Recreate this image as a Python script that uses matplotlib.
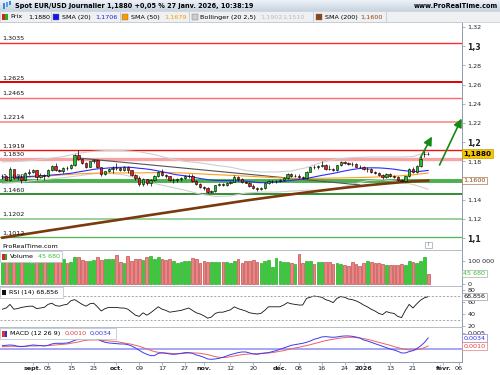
import numpy as np
import pandas as pd
import matplotlib
matplotlib.use('Agg')
import matplotlib.pyplot as plt
from matplotlib.patches import Rectangle

plt.rcParams['font.family'] = ['DejaVu Sans']

# ---- data (EUR/USD daily, 20 aout 2025 -> 27 janv. 2026) ----
opens = [1.1648, 1.1650, 1.1610, 1.1718, 1.1622, 1.1640, 1.1605, 1.1680, 1.1685, 1.1710,
         1.1640, 1.1655, 1.1645, 1.1715, 1.1755, 1.1708, 1.1695, 1.1735, 1.1733, 1.1760,
         1.1867, 1.1820, 1.1785, 1.1745, 1.1800, 1.1810, 1.1738, 1.1665, 1.1700, 1.1725,
         1.1735, 1.1730, 1.1715, 1.1745, 1.1712, 1.1655, 1.1630, 1.1565, 1.1615, 1.1570,
         1.1608, 1.1645, 1.1690, 1.1655, 1.1645, 1.1605, 1.1610, 1.1615, 1.1625, 1.1645,
         1.1650, 1.1600, 1.1565, 1.1535, 1.1520, 1.1485, 1.1490, 1.1550, 1.1565, 1.1555,
         1.1580, 1.1590, 1.1635, 1.1620, 1.1590, 1.1580, 1.1545, 1.1525, 1.1510, 1.1520,
         1.1570, 1.1595, 1.1595, 1.1600, 1.1610, 1.1625, 1.1665, 1.1645, 1.1648, 1.1640,
         1.1630, 1.1690, 1.1740, 1.1738, 1.1755, 1.1760, 1.1725, 1.1722, 1.1710, 1.1760,
         1.1790, 1.1780, 1.1772, 1.1770, 1.1745, 1.1740, 1.1720, 1.1722, 1.1690, 1.1675,
         1.1655, 1.1635, 1.1665, 1.1645, 1.1642, 1.1610, 1.1598, 1.1645, 1.1725, 1.1685,
         1.1755, 1.1878, 1.1882]
highs = [1.1672, 1.1660, 1.1742, 1.1722, 1.1655, 1.1660, 1.1690, 1.1720, 1.1720, 1.1715,
         1.1675, 1.1665, 1.1725, 1.1765, 1.1780, 1.1725, 1.1745, 1.1755, 1.1770, 1.1875,
         1.1918, 1.1830, 1.1790, 1.1805, 1.1820, 1.1820, 1.1745, 1.1705, 1.1730, 1.1750,
         1.1780, 1.1740, 1.1750, 1.1755, 1.1715, 1.1665, 1.1645, 1.1625, 1.1620, 1.1615,
         1.1655, 1.1700, 1.1725, 1.1670, 1.1650, 1.1625, 1.1630, 1.1635, 1.1655, 1.1665,
         1.1670, 1.1610, 1.1580, 1.1545, 1.1530, 1.1505, 1.1555, 1.1575, 1.1580, 1.1590,
         1.1595, 1.1655, 1.1650, 1.1630, 1.1600, 1.1590, 1.1560, 1.1535, 1.1535, 1.1580,
         1.1605, 1.1610, 1.1610, 1.1620, 1.1635, 1.1675, 1.1680, 1.1665, 1.1665, 1.1650,
         1.1700, 1.1745, 1.1760, 1.1765, 1.1805, 1.1770, 1.1760, 1.1735, 1.1765, 1.1800,
         1.1805, 1.1790, 1.1790, 1.1780, 1.1760, 1.1750, 1.1740, 1.1735, 1.1700, 1.1685,
         1.1665, 1.1675, 1.1675, 1.1660, 1.1650, 1.1620, 1.1650, 1.1735, 1.1740, 1.1760,
         1.1870, 1.1915, 1.1900]
lows = [1.1620, 1.1605, 1.1600, 1.1612, 1.1608, 1.1574, 1.1600, 1.1660, 1.1680, 1.1610,
        1.1630, 1.1610, 1.1635, 1.1705, 1.1700, 1.1690, 1.1680, 1.1715, 1.1725, 1.1755,
        1.1810, 1.1770, 1.1730, 1.1740, 1.1785, 1.1730, 1.1645, 1.1655, 1.1690, 1.1680,
        1.1715, 1.1695, 1.1705, 1.1680, 1.1645, 1.1610, 1.1540, 1.1545, 1.1555, 1.1545,
        1.1600, 1.1640, 1.1645, 1.1630, 1.1595, 1.1580, 1.1590, 1.1600, 1.1620, 1.1630,
        1.1590, 1.1555, 1.1520, 1.1505, 1.1475, 1.1468, 1.1485, 1.1540, 1.1540, 1.1545,
        1.1560, 1.1585, 1.1600, 1.1580, 1.1570, 1.1535, 1.1515, 1.1490, 1.1500, 1.1510,
        1.1560, 1.1580, 1.1575, 1.1585, 1.1595, 1.1620, 1.1635, 1.1635, 1.1630, 1.1615,
        1.1620, 1.1685, 1.1720, 1.1725, 1.1740, 1.1715, 1.1710, 1.1695, 1.1705, 1.1750,
        1.1770, 1.1760, 1.1755, 1.1740, 1.1730, 1.1710, 1.1690, 1.1680, 1.1665, 1.1650,
        1.1620, 1.1625, 1.1635, 1.1630, 1.1600, 1.1585, 1.1590, 1.1640, 1.1675, 1.1680,
        1.1745, 1.1850, 1.1862]
closes = [1.1650, 1.1610, 1.1718, 1.1622, 1.1640, 1.1605, 1.1680, 1.1685, 1.1710, 1.1640,
          1.1655, 1.1645, 1.1715, 1.1755, 1.1708, 1.1695, 1.1735, 1.1733, 1.1760, 1.1867,
          1.1820, 1.1785, 1.1745, 1.1800, 1.1810, 1.1738, 1.1665, 1.1700, 1.1725, 1.1735,
          1.1730, 1.1715, 1.1745, 1.1712, 1.1655, 1.1630, 1.1565, 1.1615, 1.1570, 1.1608,
          1.1645, 1.1690, 1.1655, 1.1645, 1.1605, 1.1610, 1.1615, 1.1625, 1.1645, 1.1650,
          1.1600, 1.1565, 1.1535, 1.1520, 1.1485, 1.1490, 1.1550, 1.1565, 1.1555, 1.1580,
          1.1590, 1.1635, 1.1620, 1.1590, 1.1580, 1.1545, 1.1525, 1.1510, 1.1520, 1.1570,
          1.1595, 1.1595, 1.1600, 1.1610, 1.1625, 1.1665, 1.1645, 1.1648, 1.1640, 1.1630,
          1.1690, 1.1740, 1.1738, 1.1755, 1.1760, 1.1725, 1.1722, 1.1710, 1.1760, 1.1790,
          1.1780, 1.1772, 1.1770, 1.1745, 1.1740, 1.1720, 1.1722, 1.1690, 1.1675, 1.1655,
          1.1635, 1.1665, 1.1645, 1.1642, 1.1610, 1.1598, 1.1645, 1.1725, 1.1685, 1.1755,
          1.1830, 1.1882, 1.1880]

sma20 = [1.1628, 1.1630, 1.1633, 1.1635, 1.1637, 1.1638, 1.1640, 1.1642, 1.1645, 1.1646,
         1.1648, 1.1650, 1.1654, 1.1658, 1.1661, 1.1664, 1.1668, 1.1672, 1.1676, 1.1683,
         1.1690, 1.1697, 1.1703, 1.1710, 1.1717, 1.1722, 1.1724, 1.1728, 1.1732, 1.1735,
         1.1737, 1.1738, 1.1740, 1.1740, 1.1737, 1.1733, 1.1728, 1.1725, 1.1720, 1.1715,
         1.1708, 1.1700, 1.1692, 1.1685, 1.1676, 1.1667, 1.1660, 1.1655, 1.1650, 1.1645,
         1.1638, 1.1630, 1.1622, 1.1616, 1.1610, 1.1605, 1.1603, 1.1601, 1.1600, 1.1600,
         1.1600, 1.1600, 1.1598, 1.1596, 1.1593, 1.1590, 1.1585, 1.1580, 1.1578, 1.1579,
         1.1581, 1.1583, 1.1585, 1.1588, 1.1592, 1.1597, 1.1602, 1.1607, 1.1612, 1.1617,
         1.1623, 1.1630, 1.1638, 1.1646, 1.1654, 1.1661, 1.1668, 1.1675, 1.1683, 1.1692,
         1.1700, 1.1708, 1.1715, 1.1721, 1.1726, 1.1729, 1.1732, 1.1733, 1.1733, 1.1732,
         1.1730, 1.1727, 1.1723, 1.1719, 1.1713, 1.1707, 1.1702, 1.1698, 1.1695, 1.1695,
         1.1697, 1.1701, 1.1706]

# smoother lines, read every 4th session
sma50 = [1.1625, 1.1630, 1.1638, 1.1648, 1.1660, 1.1670, 1.1677, 1.1680, 1.1680, 1.1680,
         1.1683, 1.1683, 1.1678, 1.1670, 1.1662, 1.1655, 1.1647, 1.1638, 1.1630, 1.1624,
         1.1622, 1.1624, 1.1627, 1.1630, 1.1634, 1.1640, 1.1648, 1.1660, 1.1679]
sma200 = [1.1005, 1.1030, 1.1054, 1.1079, 1.1103, 1.1128, 1.1152, 1.1176, 1.1200, 1.1224,
          1.1248, 1.1272, 1.1296, 1.1320, 1.1344, 1.1368, 1.1392, 1.1414, 1.1436, 1.1457,
          1.1477, 1.1497, 1.1516, 1.1534, 1.1551, 1.1566, 1.1580, 1.1592, 1.1600]
bb_up = [1.1795, 1.1800, 1.1810, 1.1830, 1.1850, 1.1885, 1.1905, 1.1915, 1.1912, 1.1900,
         1.1870, 1.1830, 1.1800, 1.1785, 1.1760, 1.1740, 1.1705, 1.1690, 1.1690, 1.1700,
         1.1735, 1.1790, 1.1825, 1.1840, 1.1845, 1.1845, 1.1845, 1.1850, 1.1902]
bb_low = [1.1570, 1.1580, 1.1600, 1.1615, 1.1630, 1.1650, 1.1672, 1.1675, 1.1660, 1.1620,
          1.1570, 1.1535, 1.1500, 1.1460, 1.1435, 1.1440, 1.1470, 1.1480, 1.1480, 1.1490,
          1.1500, 1.1500, 1.1520, 1.1560, 1.1600, 1.1610, 1.1590, 1.1560, 1.1510]

volume = [98000, 104000, 112000, 101000, 96000, 99000, 103000, 95000, 90000, 108000,
          99000, 97000, 105000, 100000, 103000, 96000, 107000, 93000, 97000, 116000,
          117000, 104000, 101000, 101000, 104000, 116000, 104000, 107000, 110000, 110000,
          126000, 97000, 90000, 124000, 101000, 110000, 110000, 104000, 116000, 121000,
          111000, 116000, 107000, 104000, 107000, 101000, 93000, 96000, 99000, 101000,
          114000, 111000, 90000, 101000, 97000, 94000, 94000, 94000, 94000, 97000,
          93000, 99000, 107000, 93000, 101000, 101000, 104000, 97000, 90000, 101000,
          104000, 73000, 114000, 101000, 94000, 94000, 93000, 86000, 129000, 93000,
          101000, 101000, 88000, 96000, 96000, 94000, 94000, 86000, 90000, 86000,
          83000, 78000, 94000, 88000, 80000, 90000, 101000, 94000, 91000, 90000,
          88000, 83000, 83000, 83000, 83000, 86000, 81000, 101000, 94000, 90000,
          101000, 116000, 45680]

rsi = [48, 50, 56, 48, 49, 51, 52, 53, 53, 49,
       50, 51, 56, 58, 54, 53, 55, 56, 62, 64,
       60, 56, 53, 57, 58, 52, 45, 49, 51, 51,
       51, 50, 50, 48, 43, 38, 36, 42, 38, 42,
       47, 52, 48, 46, 43, 44, 45, 46, 48, 50,
       46, 42, 40, 37, 33, 35, 41, 43, 43, 45,
       47, 52, 49, 47, 45, 42, 41, 40, 41, 46,
       52, 52, 52, 52, 55, 59, 57, 56, 55, 55,
       66, 68, 70, 69, 68, 64, 62, 59, 66, 69,
       68, 65, 64, 62, 59, 55, 52, 48, 45, 41,
       39, 44, 42, 41, 36, 34, 46, 56, 50, 57,
       63, 67, 68.856]

macd = [0.0011, 0.0012, 0.0013, 0.0012, 0.0009, 0.0008, 0.0009, 0.0011, 0.0013, 0.0012,
        0.0011, 0.0010, 0.0012, 0.0016, 0.0018, 0.0018, 0.0018, 0.0019, 0.0022, 0.0027,
        0.0030, 0.0032, 0.0033, 0.0033, 0.0033, 0.0032, 0.0025, 0.0021, 0.0019, 0.0018,
        0.0017, 0.0016, 0.0016, 0.0014, 0.0010, 0.0004, -0.0003, -0.0010, -0.0015, -0.0019,
        -0.0019, -0.0012, -0.0011, -0.0012, -0.0014, -0.0015, -0.0014, -0.0012, -0.0010, -0.0010,
        -0.0012, -0.0017, -0.0020, -0.0024, -0.0029, -0.0030, -0.0029, -0.0027, -0.0024, -0.0020,
        -0.0016, -0.0013, -0.0010, -0.0008, -0.0008, -0.0011, -0.0014, -0.0015, -0.0013, -0.0011,
        -0.0010, -0.0007, -0.0004, 0.0000, 0.0004, 0.0008, 0.0012, 0.0014, 0.0016, 0.0018,
        0.0021, 0.0025, 0.0030, 0.0033, 0.0037, 0.0038, 0.0037, 0.0036, 0.0037, 0.0039,
        0.0040, 0.0040, 0.0039, 0.0037, 0.0034, 0.0028, 0.0025, 0.0021, 0.0017, 0.0013,
        0.0009, 0.0005, 0.0001, -0.0002, -0.0006, -0.0011, -0.0011, -0.0007, -0.0004, 0.0002,
        0.0010, 0.0020, 0.0034]
signal = [0.0008, 0.0008, 0.0009, 0.0009, 0.0009, 0.0009, 0.0009, 0.0010, 0.0010, 0.0010,
          0.0011, 0.0011, 0.0011, 0.0012, 0.0013, 0.0014, 0.0015, 0.0016, 0.0018, 0.0020,
          0.0022, 0.0025, 0.0027, 0.0028, 0.0028, 0.0028, 0.0027, 0.0026, 0.0025, 0.0024,
          0.0023, 0.0021, 0.0019, 0.0017, 0.0015, 0.0012, 0.0009, 0.0005, 0.0001, -0.0003,
          -0.0007, -0.0009, -0.0010, -0.0011, -0.0012, -0.0013, -0.0013, -0.0013, -0.0012, -0.0011,
          -0.0011, -0.0011, -0.0012, -0.0014, -0.0016, -0.0019, -0.0022, -0.0024, -0.0025, -0.0024,
          -0.0022, -0.0020, -0.0018, -0.0016, -0.0015, -0.0014, -0.0013, -0.0013, -0.0012, -0.0012,
          -0.0011, -0.0010, -0.0008, -0.0006, -0.0004, -0.0001, 0.0002, 0.0004, 0.0006, 0.0009,
          0.0011, 0.0014, 0.0017, 0.0020, 0.0023, 0.0026, 0.0028, 0.0030, 0.0032, 0.0034,
          0.0035, 0.0036, 0.0036, 0.0035, 0.0034, 0.0032, 0.0030, 0.0027, 0.0024, 0.0021,
          0.0018, 0.0015, 0.0012, 0.0008, 0.0005, 0.0002, 0.0000, -0.0002, -0.0002, -0.0001,
          0.0001, 0.0005, 0.0010]

# horizontal levels: value, colour, width
levels = [1.3035, 1.2625, 1.2465, 1.2214, 1.1919, 1.1830, 1.1600, 1.1460, 1.1202, 1.1012]
level_colors = ['#ff2a2a', '#e00000', '#ff6a6a', '#ff9a9a', '#ee1111', '#f5a5a5',
                '#4caf50', '#127a12', '#9ad09a', '#5cb85c']
level_widths = [1.0, 1.4, 1.0, 1.4, 1.0, 2.4, 2.8, 1.2, 1.4, 1.0]
level_labels = ['1,3035', '1,2625', '1,2465', '1,2214', '1,1919', '1,1830', '1,1600',
                '1,1460', '1,1202', '1,1012']

# trend line and arrows (session index, price)
trend = [(20, 1.1835), (94, 1.1555)]
arrows = [((109.9, 1.1835), (113.0, 1.2059)), ((115.0, 1.1763), (120.8, 1.2247))]

x_tick_dates = ['2025-09-01', '2025-09-05', '2025-09-15', '2025-09-23', '2025-10-01',
                '2025-10-09', '2025-10-17', '2025-10-27', '2025-11-03', '2025-11-12',
                '2025-11-20', '2025-12-01', '2025-12-08', '2025-12-16', '2025-12-24',
                '2026-01-02', '2026-01-13', '2026-01-21', '2026-02-02', '2026-02-06']
x_tick_labels = ['sept.', '05', '15', '23', 'oct.', '09', '17', '27', 'nov.', '12', '20',
                 'déc.', '08', '16', '24', '2026', '13', '21', 'févr.', '06']
month_labels = {'sept.', 'oct.', 'nov.', 'déc.', '2026', 'févr.'}

# trading sessions (no 25 dec, no 1 jan)
days = pd.bdate_range('2025-08-20', '2026-02-13')
days = days[~days.isin(pd.to_datetime(['2025-12-25', '2026-01-01']))]
n = len(closes)
x = np.arange(n)
x4 = x[::4]
tick_pos = [days.get_loc(pd.Timestamp(d)) for d in x_tick_dates]

o = np.array(opens); c = np.array(closes)
up = c >= o

FS = 4.6
AXC = '#8e9cab'

fig = plt.figure(figsize=(5, 3.75), dpi=100)
fig.patch.set_facecolor('white')


def box(top, bottom):
    return [0, 1 - bottom / 375, 462 / 500, (bottom - top) / 375]


ax = fig.add_axes(box(22, 250))
axv = fig.add_axes(box(250, 286))
axr = fig.add_axes(box(286, 327))
axm = fig.add_axes(box(327, 362))

for a in (ax, axv, axr, axm):
    a.set_xlim(-0.63, 120.9)
    a.yaxis.tick_right()
    a.spines['left'].set_visible(False)
    a.spines['right'].set_color(AXC)
    a.spines['top'].set_color('#b4bcc6')
    a.spines['bottom'].set_visible(False)
    for s in a.spines.values():
        s.set_linewidth(0.7)
    a.tick_params(axis='y', labelsize=FS, length=2.5, width=0.5, color=AXC, pad=1.5,
                  labelcolor='#222222')
    a.tick_params(axis='x', bottom=False, labelbottom=False)

# ---- price panel ----
ax.set_ylim(1.0877, 1.3252)
yt = [1.1, 1.12, 1.14, 1.16, 1.18, 1.2, 1.22, 1.24, 1.26, 1.28, 1.3, 1.32]
# '1,16' sits under the SMA(200) value box, as in the original
ylab = ['1,1', '1,12', '1,14', '', '1,18', '1,2', '1,22', '1,24', '1,26', '1,28', '1,3', '1,32']
ax.set_yticks(yt, ylab)
for t in ax.get_yticklabels():
    if t.get_text() in ('1,1', '1,2', '1,3'):
        t.set_fontweight('bold')
        t.set_fontsize(5.6)

for v, col, lw, lab in zip(levels, level_colors, level_widths, level_labels):
    ax.axhline(v, color=col, lw=lw, zorder=1)
    ax.annotate(lab, (0.004, v), xycoords=ax.get_yaxis_transform(), xytext=(0, 1.2),
                textcoords='offset points', fontsize=FS, va='bottom', ha='left',
                color='#111111', zorder=0.5 if lab == '1,1600' else 6)

ax.plot(x4, bb_up, color='#cfcfcf', lw=0.8, zorder=2)
ax.plot(x4, bb_low, color='#cfcfcf', lw=0.8, zorder=2)
ax.plot([p[0] for p in trend], [p[1] for p in trend], color='#555555', lw=0.8, zorder=2)
ax.plot(x4, sma50, color='#ff9d1a', lw=0.8, zorder=3)
ax.plot(x, sma20, color='#2a2aff', lw=0.8, zorder=3)
ax.plot(x4, sma200, color='#7a3a0c', lw=1.9, zorder=3)

ax.vlines(x, lows, highs, color='black', lw=0.5, zorder=4)
body = np.maximum(np.abs(c - o), 0.00015)
ax.bar(x, body, bottom=np.minimum(o, c), width=0.62,
       color=np.where(up, '#22c222', '#e62020'), edgecolor='black', linewidth=0.4, zorder=5)

for (x0, y0), (x1, y1) in arrows:
    ax.annotate('', xy=(x1, y1), xytext=(x0, y0),
                arrowprops=dict(arrowstyle='-|>,head_length=0.5,head_width=0.25',
                                color='#138a13', lw=1.2, shrinkA=0, shrinkB=0),
                annotation_clip=False, zorder=7)

ax.text(1.003, closes[-1], '1,1880', transform=ax.get_yaxis_transform(), fontsize=5.2,
        fontweight='bold', va='center', ha='left', clip_on=False, zorder=20,
        bbox=dict(boxstyle='square,pad=0.2', fc='#f7c600', ec='#c9a000', lw=0.5))
ax.text(1.003, sma200[-1], '1,1600', transform=ax.get_yaxis_transform(), fontsize=FS,
        color='#8b4513', va='center', ha='left', clip_on=False, zorder=20,
        bbox=dict(boxstyle='square,pad=0.2', fc='white', ec='#b07850', lw=0.5))

# ---- volume ----
axv.set_ylim(-8700, 148000)
axv.bar(x, volume, width=0.72, color=np.where(up, '#36cc36', '#e98585'),
        edgecolor=np.where(up, '#139a13', '#b83030'), linewidth=0.4)
axv.set_yticks([0, 100000], ['0', '100 000'])
axv.text(1.003, volume[-1], '45 680', transform=axv.get_yaxis_transform(), fontsize=FS,
         color='#3ac03a', va='center', ha='left', clip_on=False, zorder=20,
         bbox=dict(boxstyle='square,pad=0.2', fc='white', ec='#a0b4a0', lw=0.5))

# ---- RSI ----
axr.set_ylim(18.3, 86.7)
axr.plot(x, rsi, color='#111111', lw=0.6)
for lv in (70, 30):
    axr.axhline(lv, color='#9a9a9a', lw=0.6, ls=(0, (2.5, 2)))
axr.set_yticks([20, 40, 60, 80], ['20', '40', '60', '80'])
axr.text(1.003, rsi[-1], '68,856', transform=axr.get_yaxis_transform(), fontsize=FS,
         color='#111111', va='center', ha='left', clip_on=False, zorder=20,
         bbox=dict(boxstyle='square,pad=0.2', fc='white', ec='#9aa0a8', lw=0.5))

# ---- MACD ----
axm.set_ylim(-0.00381, 0.00669)
axm.axhline(0, color='#a0a0f2', lw=1.3)
axm.plot(x, signal, color='#f06060', lw=0.7)
axm.plot(x, macd, color='#3a3af0', lw=0.7)
axm.set_yticks([0.005], ['0,005'])
axm.spines['bottom'].set_visible(True)
axm.spines['bottom'].set_color(AXC)
axm.set_xticks(tick_pos, x_tick_labels)
axm.tick_params(axis='x', bottom=True, labelbottom=True, labelsize=FS, length=2, width=0.5,
                color=AXC, pad=1.2, labelcolor='#222222')
for t in axm.get_xticklabels():
    if t.get_text() in month_labels:
        t.set_fontweight('bold')
axm.text(1.003, macd[-1], '0,0034', transform=axm.get_yaxis_transform(), fontsize=FS,
         color='#3434e0', va='center', ha='left', clip_on=False, zorder=20,
         bbox=dict(boxstyle='square,pad=0.2', fc='white', ec='#8080e0', lw=0.5))
axm.text(1.003, signal[-1], '0,0010', transform=axm.get_yaxis_transform(),
         fontsize=FS, color='#e04040', va='center', ha='left', clip_on=False, zorder=20,
         bbox=dict(boxstyle='square,pad=0.2', fc='white', ec='#e08080', lw=0.5))

# ---- overlay in pixel coordinates: header, legends ----
ov = fig.add_axes([0, 0, 1, 1], zorder=30)
ov.set_xlim(0, 500)
ov.set_ylim(375, 0)
ov.axis('off')
ov.patch.set_alpha(0)

grad = np.linspace(0, 1, 20)[:, None, None] * (np.array([0.78, 0.83, 0.88]) - np.array([0.93, 0.95, 0.97])) + np.array([0.93, 0.95, 0.97])
ov.imshow(grad, extent=[0, 500, 11, 0], aspect='auto', zorder=1)
ov.set_xlim(0, 500)
ov.set_ylim(375, 0)
ov.add_patch(Rectangle((3, 3), 1.5, 6, fc='#3a8ad8', zorder=2))
ov.add_patch(Rectangle((6, 2), 1.5, 5, fc='#5aa0e8', zorder=2))
ov.add_patch(Rectangle((9, 1), 1.5, 4, fc='#3a8ad8', zorder=2))
ov.text(15, 5.8, 'Spot EUR/USD Journalier 1,1880 +0,05 % 27 janv. 2026, 10:38:19',
        fontsize=4.7, fontweight='bold', va='center', ha='left', zorder=3)
ov.text(498, 6.0, 'www.ProRealTime.com', fontsize=4.7, fontweight='bold', va='center',
        ha='right', zorder=3)

ov.add_patch(Rectangle((0, 11), 500, 11, fc='#eff0f2', ec='#c4cad0', lw=0.5, zorder=1))
ty = 17
ov.add_patch(Rectangle((1.5, 14), 3, 6, fc='#e02020', zorder=2))
ov.add_patch(Rectangle((4.5, 14), 3, 6, fc='#20b020', zorder=2))
legend_items = [(53, '#1414ee', 'SMA (20)', 62, ['1,1706'], [95], '#2020dd'),
                (122, '#ff9900', 'SMA (50)', 131, ['1,1679'], [164], '#f5a000'),
                (192, '#cccccc', 'Bollinger (20 2,5)', 200, ['1,1902', '1,1510'], [260, 282], '#bbbbbb'),
                (316, '#8b4513', 'SMA (200)', 325, ['1,1600'], [360], '#8b4513')]
ov.text(10, ty, 'Prix', fontsize=FS, va='center', zorder=3)
ov.text(28, ty, '1,1880', fontsize=FS, va='center', zorder=3)
for sx in (50.5, 119.5, 189, 313, 386):
    ov.plot([sx, sx], [12, 22], color='#c4cad0', lw=0.6, zorder=2)
for sq, sc, name, nx, vals, vx, vc in legend_items:
    ov.add_patch(Rectangle((sq, 14), 6, 6, fc=sc, ec='#777777', lw=0.3, zorder=2))
    ov.text(nx, ty, name, fontsize=FS, va='center', zorder=3)
    for vv, xx in zip(vals, vx):
        ov.text(xx, ty, vv, fontsize=FS, va='center', color=vc, zorder=3)

# footer of price panel
ov.text(2, 246, 'ProRealTime.com', fontsize=FS, va='center', zorder=3)
ov.add_patch(Rectangle((425, 241.5), 6.5, 6.5, fc='white', ec='#9aa4ae', lw=0.5, zorder=2))
ov.text(428.3, 244.8, 'i', fontsize=3.8, va='center', ha='center', color='#667', zorder=3)

# legends of the lower panels
ov.add_patch(Rectangle((0, 251), 62, 11, fc='white', ec='#b4bcc6', lw=0.5, zorder=2))
ov.add_patch(Rectangle((2, 253.5), 2.5, 6, fc='#e02020', zorder=3))
ov.add_patch(Rectangle((4.5, 253.5), 2.5, 6, fc='#20b020', zorder=3))
ov.text(10, 256.5, 'Volume', fontsize=FS, va='center', zorder=3)
ov.text(38, 256.5, '45 680', fontsize=FS, va='center', color='#3ac03a', zorder=3)

ov.add_patch(Rectangle((0, 287), 63, 11, fc='white', ec='#b4bcc6', lw=0.5, zorder=2))
ov.add_patch(Rectangle((2, 289.5), 4, 5, fc='#111111', zorder=3))
ov.text(9, 292.5, 'RSI (14) 68,856', fontsize=FS, va='center', zorder=3)

ov.add_patch(Rectangle((0, 328), 116, 11, fc='white', ec='#b4bcc6', lw=0.5, zorder=2))
ov.add_patch(Rectangle((2, 330.5), 2.5, 6, fc='#e03030', zorder=3))
ov.add_patch(Rectangle((4.5, 330.5), 2.5, 6, fc='#3030e0', zorder=3))
ov.text(10, 333.5, 'MACD (12 26 9)', fontsize=FS, va='center', zorder=3)
ov.text(65, 333.5, '0,0010', fontsize=FS, va='center', color='#e04040', zorder=3)
ov.text(90, 333.5, '0,0034', fontsize=FS, va='center', color='#3434e0', zorder=3)

fig.savefig('out.png', dpi=100)
